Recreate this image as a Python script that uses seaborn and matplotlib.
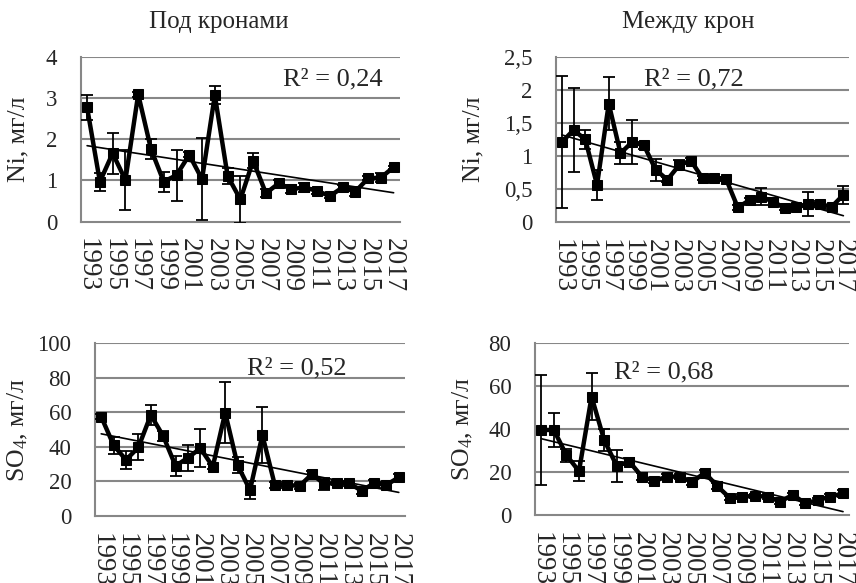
import numpy as np
import pandas as pd
import matplotlib
matplotlib.use("Agg")
import matplotlib.pyplot as plt
import seaborn as sns

sns.set_style("white")
plt.rcParams['font.family'] = ['Liberation Serif', 'DejaVu Serif']
plt.rcParams['mathtext.fontset'] = 'custom'
plt.rcParams['mathtext.rm'] = 'Liberation Serif'
plt.rcParams['mathtext.it'] = 'Liberation Serif:italic'

years = list(range(1993, 2018))
year_labels = [str(y) for y in years[::2]]

ni_under = [2.77, 0.97, 1.66, 1.01, 3.09, 1.76, 0.97, 1.13, 1.62, 1.03, 3.07, 1.11, 0.54,
            1.48, 0.69, 0.93, 0.79, 0.83, 0.75, 0.62, 0.83, 0.73, 1.05, 1.07, 1.32]
ni_under_err = [0.3, 0.22, 0.5, 0.72, 0.06, 0.25, 0.24, 0.62, 0.06, 1.0, 0.22, 0.2, 0.56,
                0.18, 0.1, 0.08, 0.1, 0.12, 0.07, 0.04, 0.06, 0.1, 0.05, 0.1, 0.04]

ni_between = [1.21, 1.39, 1.25, 0.56, 1.79, 1.04, 1.21, 1.16, 0.79, 0.64, 0.86, 0.93, 0.66,
              0.67, 0.65, 0.22, 0.33, 0.38, 0.31, 0.21, 0.22, 0.27, 0.27, 0.23, 0.41]
ni_between_err = [1.0, 0.63, 0.14, 0.22, 0.4, 0.17, 0.33, 0.05, 0.17, 0.04, 0.08, 0.04, 0.03,
                  0.03, 0.03, 0.04, 0.04, 0.13, 0.05, 0.03, 0.03, 0.18, 0.05, 0.03, 0.14]

so4_under = [57.5, 41, 32.5, 39.8, 58.5, 46.3, 29, 33.8, 39.2, 28.6, 59.8, 29.5, 15,
             46.9, 18, 18, 17.4, 24.3, 18.5, 19.3, 18.9, 14.7, 18.9, 18, 22.4]
so4_under_err = [1.5, 5, 5, 7.5, 6, 3, 6, 7.5, 11, 1.5, 17.6, 4.5, 5,
                 16.4, 1.5, 1.5, 1.5, 2, 3.5, 1.5, 1.5, 2, 2, 1.5, 2]

so4_between = [39.7, 39.7, 28, 20.5, 55.2, 35, 23, 25, 18, 16, 18, 18, 15.5,
               19.8, 13.6, 8, 8.7, 9, 8.7, 6.4, 9.5, 5.6, 7.1, 8.7, 10.2]
so4_between_err = [25.7, 8, 3, 4.6, 11, 5, 7.5, 1.5, 1.5, 1, 1, 1, 1.5,
                   1.5, 1.5, 1, 1, 1, 1, 1, 1, 1, 1, 1, 1.5]

titles = ["Под кронами", "Между крон"]
r2_labels = ["R² = 0,24", "R² = 0,72", "R² = 0,52", "R² = 0,68"]
ylabels = ["Ni, мг/л", "Ni, мг/л", "SO$_4$, мг/л", "SO$_4$, мг/л"]

panels = [
    dict(vals=ni_under, err=ni_under_err, rect=[0.0943, 0.6197, 0.373, 0.283],
         ylim=(0, 4), yticks=[0, 1, 2, 3, 4], yticklabels=["0", "1", "2", "3", "4"],
         r2=(0.79, 0.865), ylabx=-0.16),
    dict(vals=ni_between, err=ni_between_err, rect=[0.6495, 0.6192, 0.3426, 0.2835],
         ylim=(0, 2.5), yticks=[0, 0.5, 1, 1.5, 2, 2.5],
         yticklabels=["0", "0,5", "1", "1,5", "2", "2,5"],
         r2=(0.47, 0.86), ylabx=-0.245),
    dict(vals=so4_under, err=so4_under_err, rect=[0.111, 0.1149, 0.3621, 0.2962],
         ylim=(0, 100), yticks=[0, 20, 40, 60, 80, 100],
         yticklabels=["0", "20", "40", "60", "80", "100"],
         r2=(0.65, 0.857), ylabx=-0.21),
    dict(vals=so4_between, err=so4_between_err, rect=[0.625, 0.1161, 0.3672, 0.295],
         ylim=(0, 80), yticks=[0, 20, 40, 60, 80],
         yticklabels=["0", "20", "40", "60", "80"],
         r2=(0.41, 0.83), ylabx=-0.19),
]

grey = "#878787"
fig = plt.figure(figsize=(8.56, 5.83), dpi=100)

for i, p in enumerate(panels):
    ax = fig.add_axes(p["rect"])
    df = pd.DataFrame({"x": np.arange(len(years)), "v": p["vals"], "e": p["err"]})
    ax.set_axisbelow(True)
    for yt in p["yticks"][1:]:
        ax.axhline(yt, color=grey, lw=1.5, zorder=0)
    sns.regplot(data=df, x="x", y="v", scatter=False, ci=None, truncate=True,
                color="black", line_kws=dict(lw=1.2, zorder=2), ax=ax)
    ax.errorbar(df["x"], df["v"], yerr=df["e"], fmt="none", ecolor="black",
                elinewidth=1.3, capsize=4, capthick=1.3, zorder=3)
    sns.lineplot(data=df, x="x", y="v", color="black", lw=3.2, marker="s",
                 markersize=7.5, markeredgecolor="black", ax=ax, zorder=4)
    ax.set_xlim(-0.5, len(years) - 0.5)
    ax.set_ylim(*p["ylim"])
    ax.set_yticks(p["yticks"], p["yticklabels"], fontsize=16.5)
    ax.set_xticks(np.arange(-0.5, len(years), 1.0), [""] * (len(years) + 1))
    ax.set_xticks(np.arange(0, len(years), 2), year_labels, minor=True,
                  rotation=-90, fontsize=19.5)
    ax.tick_params(axis="x", which="major", length=5, width=1.3, color=grey, direction="out")
    ax.tick_params(axis="x", which="minor", length=0, pad=12)
    ax.tick_params(axis="y", length=4, width=1.3, color=grey, direction="out", pad=13)
    for s in ["top", "right"]:
        ax.spines[s].set_visible(False)
    for s in ["left", "bottom"]:
        ax.spines[s].set_color(grey)
        ax.spines[s].set_linewidth(1.5)
    ax.set_xlabel("")
    ax.set_ylabel(ylabels[i], fontsize=18.5)
    ax.yaxis.set_label_coords(p["ylabx"], 0.5)
    ax.text(p["r2"][0], p["r2"][1], r2_labels[i], transform=ax.transAxes,
            ha="center", va="center", fontsize=19)

fig.text(219 / 856, 1 - 22 / 583, titles[0], ha="center", va="center", fontsize=18)
fig.text(688 / 856, 1 - 22 / 583, titles[1], ha="center", va="center", fontsize=18)

fig.savefig("out.png", dpi=100)
